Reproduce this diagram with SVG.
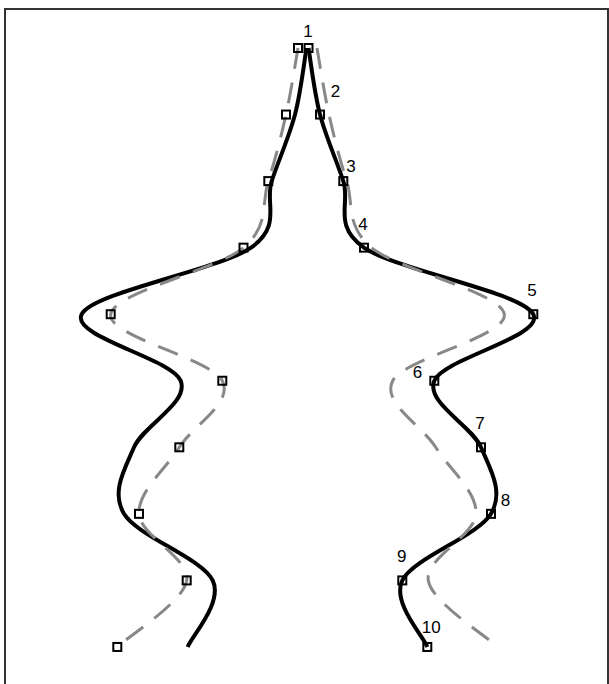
<svg xmlns="http://www.w3.org/2000/svg" xmlns:xlink="http://www.w3.org/1999/xlink" width="609" height="684" viewBox="0 0 609 684">
<style>
.frame{fill:none;stroke:#333;stroke-width:2}
.solid{fill:none;stroke:#000;stroke-width:4;stroke-linejoin:round}
.dash{fill:none;stroke:#888;stroke-width:3;stroke-dasharray:21 14}
.pt{fill:none;stroke:#000;stroke-width:2}
.lbl{font-family:"Liberation Sans",Arial,sans-serif;font-size:17px;fill:#000;text-anchor:middle}
</style>
<defs>
<path id="curveR" d="M308.5,48 C310.42,59.09 314.2,92.37 320,114.55 C325.8,136.73 335.97,158.92 343.3,181.1 C350.63,203.28 332.33,225.47 364,247.65 C395.67,269.83 521.58,292.02 533.3,314.2 C545.02,336.38 443.02,358.57 434.3,380.75 C425.58,402.93 471.55,425.12 481,447.3 C490.45,469.48 504.12,491.67 491,513.85 C477.88,536.03 412.92,558.22 402.3,580.4 C391.68,602.58 423.13,635.86 427.3,646.95"/>
<path id="curveL" d="M298,48 C296,59.09 290.95,92.37 286,114.55 C281.05,136.73 275.38,158.92 268.3,181.1 C261.22,203.28 269.77,225.47 243.5,247.65 C217.23,269.83 114.23,292.02 110.7,314.2 C107.17,336.38 210.87,358.57 222.3,380.75 C233.73,402.93 193.18,425.12 179.3,447.3 C165.42,469.48 137.77,491.67 139,513.85 C140.23,536.03 190.32,558.22 186.7,580.4 C183.08,602.58 128.87,635.86 117.3,646.95"/>
<rect id="sq" x="-4" y="-4" width="8" height="8"/>
</defs>
<rect class="frame" x="5" y="9" width="603" height="700"/>
<g id="connectors">
<use xlink:href="#curveR" class="solid"/>
<use xlink:href="#curveR" class="solid" transform="matrix(-1 0 0 1 615 0)"/>
<use xlink:href="#curveL" class="dash"/>
<use xlink:href="#curveL" class="dash" transform="matrix(-1 0 0 1 615 0)"/>
</g>
<g id="p1"><use xlink:href="#sq" class="pt" x="308.5" y="48"/><text class="lbl" x="308" y="37">1</text></g>
<g id="p2"><use xlink:href="#sq" class="pt" x="320" y="114.55"/><text class="lbl" x="335.5" y="96.5">2</text></g>
<g id="p3"><use xlink:href="#sq" class="pt" x="343.3" y="181.1"/><text class="lbl" x="351" y="171.5">3</text></g>
<g id="p4"><use xlink:href="#sq" class="pt" x="364" y="247.65"/><text class="lbl" x="363" y="230">4</text></g>
<g id="p5"><use xlink:href="#sq" class="pt" x="533.3" y="314.2"/><text class="lbl" x="532" y="296">5</text></g>
<g id="p6"><use xlink:href="#sq" class="pt" x="434.3" y="380.75"/><text class="lbl" x="417.5" y="378">6</text></g>
<g id="p7"><use xlink:href="#sq" class="pt" x="481" y="447.3"/><text class="lbl" x="480" y="429">7</text></g>
<g id="p8"><use xlink:href="#sq" class="pt" x="491" y="513.85"/><text class="lbl" x="505.5" y="506">8</text></g>
<g id="p9"><use xlink:href="#sq" class="pt" x="402.3" y="580.4"/><text class="lbl" x="401.7" y="561.5">9</text></g>
<g id="p10"><use xlink:href="#sq" class="pt" x="427.3" y="646.95"/><text class="lbl" x="431.3" y="633">10</text></g>
<g id="q1"><use xlink:href="#sq" class="pt" x="298" y="48"/></g>
<g id="q2"><use xlink:href="#sq" class="pt" x="286" y="114.55"/></g>
<g id="q3"><use xlink:href="#sq" class="pt" x="268.3" y="181.1"/></g>
<g id="q4"><use xlink:href="#sq" class="pt" x="243.5" y="247.65"/></g>
<g id="q5"><use xlink:href="#sq" class="pt" x="110.7" y="314.2"/></g>
<g id="q6"><use xlink:href="#sq" class="pt" x="222.3" y="380.75"/></g>
<g id="q7"><use xlink:href="#sq" class="pt" x="179.3" y="447.3"/></g>
<g id="q8"><use xlink:href="#sq" class="pt" x="139" y="513.85"/></g>
<g id="q9"><use xlink:href="#sq" class="pt" x="186.7" y="580.4"/></g>
<g id="q10"><use xlink:href="#sq" class="pt" x="117.3" y="646.95"/></g>
</svg>
